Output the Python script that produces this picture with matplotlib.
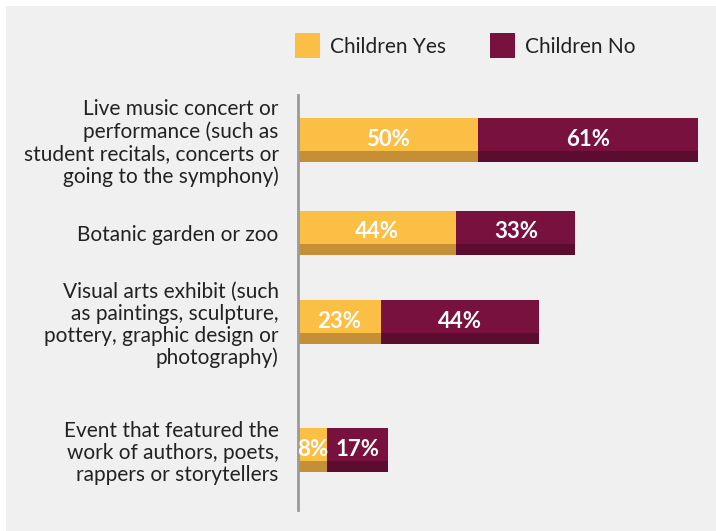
import matplotlib.pyplot as plt
from matplotlib.patches import Rectangle

categories = [
    "Live music concert or\nperformance (such as\nstudent recitals, concerts or\ngoing to the symphony)",
    "Botanic garden or zoo",
    "Visual arts exhibit (such\nas paintings, sculpture,\npottery, graphic design or\nphotography)",
    "Event that featured the\nwork of authors, poets,\nrappers or storytellers",
]
children_yes = [50, 44, 23, 8]
children_no = [61, 33, 44, 17]
series_names = ["Children Yes", "Children No"]

# layout
bar_y = [140, 233, 322, 450]  # pixel centres (from top)
bar_h = 44
W, H = 716, 531
yellow, yellow_dk = "#FBBF46", "#C48F36"
maroon, maroon_dk = "#78113D", "#5B0C2F"
bg = "#F0F0F0"
plt.rcParams['font.family'] = ['Lato', 'DejaVu Sans']

fig = plt.figure(figsize=(W / 100, H / 100), dpi=100)
fig.patch.set_facecolor("white")
fig.add_artist(Rectangle((6 / W, 0), 1, 1 - 6 / H, transform=fig.transFigure,
                         facecolor=bg, edgecolor="none", zorder=-10))

ax_left, ax_right, ax_top, ax_bot = 298, 716, 95, 510
ax = fig.add_axes([ax_left / W, 1 - ax_bot / H, (ax_right - ax_left) / W,
                   (ax_bot - ax_top) / H])
ax.set_facecolor("none")
ax.set_xlim(0, (ax_right - ax_left) / 3.6)
ax.set_ylim(ax_bot, ax_top)
for s in ["top", "right", "bottom"]:
    ax.spines[s].set_visible(False)
ax.spines["left"].set_color("#9A9A9A")
ax.spines["left"].set_linewidth(2)
ax.set_xticks([])
ax.set_yticks(bar_y)
ax.set_yticklabels(categories, fontsize=15, color="#222222", linespacing=1.12)
ax.tick_params(axis="y", length=0, pad=14)

strip = bar_h * 0.25
for yc, a, b in zip(bar_y, children_yes, children_no):
    ax.barh(yc, a, height=bar_h, left=0, color=yellow)
    ax.barh(yc + bar_h / 2 - strip / 2, a, height=strip, left=0, color=yellow_dk)
    ax.barh(yc, b, height=bar_h, left=a, color=maroon)
    ax.barh(yc + bar_h / 2 - strip / 2, b, height=strip, left=a, color=maroon_dk)
    ax.text(a / 2, yc - 1, f"{a}%", ha="center", va="center", color="white",
            fontsize=16, fontweight="bold")
    ax.text(a + b / 2, yc - 1, f"{b}%", ha="center", va="center", color="white",
            fontsize=16, fontweight="bold")

# legend
for x0, col, name in [(295, yellow, series_names[0]), (490, maroon, series_names[1])]:
    fig.add_artist(Rectangle((x0 / W, 1 - 58 / H), 25 / W, 25 / H,
                             transform=fig.transFigure, facecolor=col, edgecolor="none"))
    fig.text((x0 + 35) / W, 1 - 47 / H, name, fontsize=15, color="#222222",
             va="center", ha="left")

fig.savefig("out.png", dpi=100)
